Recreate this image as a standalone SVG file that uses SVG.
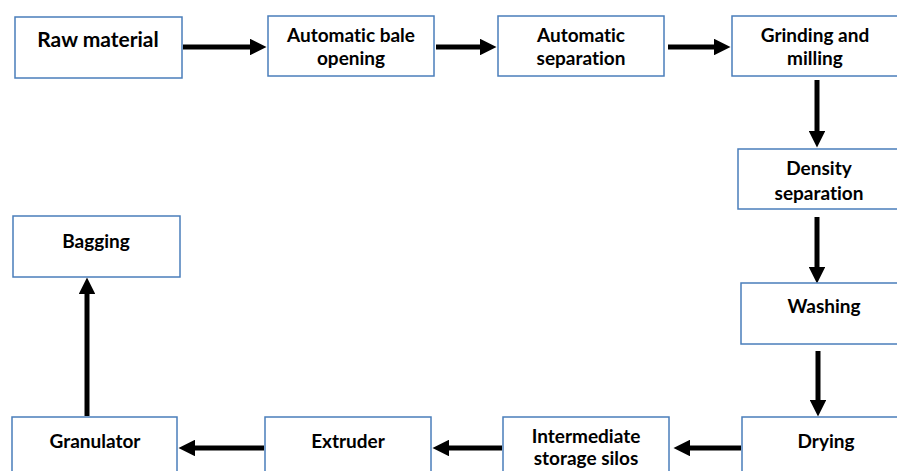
<svg xmlns="http://www.w3.org/2000/svg" width="897" height="471" viewBox="0 0 897 471">
<defs>
<style>
.box{fill:#fff;stroke:#4a7ebb;stroke-width:1.5}
.t{font-family:Lato,"Liberation Sans",sans-serif;font-weight:bold;font-size:19px;fill:#000;text-anchor:middle;font-variant-ligatures:none}
.c{stroke:#000;stroke-width:5;fill:none;marker-end:url(#ah)}
</style>
<marker id="ah" viewBox="0 0 10 10" refX="0" refY="5" markerWidth="3.4" markerHeight="3.3" markerUnits="strokeWidth" orient="auto">
<path d="M0,0 L10,5 L0,10 z" fill="#000"/>
</marker>
</defs>
<rect width="897" height="471" fill="#fff"/>
<g id="connectors">
<line class="c" x1="183" y1="47" x2="250" y2="47"/>
<line class="c" x1="436" y1="47" x2="480" y2="47"/>
<line class="c" x1="668" y1="47" x2="714" y2="47"/>
<line class="c" x1="817" y1="80" x2="817" y2="131"/>
<line class="c" x1="817" y1="217" x2="817" y2="267"/>
<line class="c" x1="818" y1="351" x2="818" y2="400"/>
<line class="c" x1="741" y1="448" x2="690" y2="448"/>
<line class="c" x1="502" y1="448" x2="449" y2="448"/>
<line class="c" x1="264" y1="448" x2="195" y2="448"/>
<line class="c" x1="87" y1="416" x2="87" y2="294"/>
</g>
<g id="raw-material"><rect class="box" x="15" y="17" width="167" height="61"/><text class="t" x="98" y="47" style="font-size:21px">Raw material</text></g>
<g id="bale-opening"><rect class="box" x="268" y="16" width="166" height="60"/><text class="t" x="351" y="42">Automatic bale</text><text class="t" x="351" y="65">opening</text></g>
<g id="auto-separation"><rect class="box" x="498" y="16" width="166" height="60"/><text class="t" x="581" y="42">Automatic</text><text class="t" x="581" y="65">separation</text></g>
<g id="grinding"><rect class="box" x="732" y="16" width="180" height="60"/><text class="t" x="815" y="42">Grinding and</text><text class="t" x="815" y="65">milling</text></g>
<g id="density"><rect class="box" x="738" y="149" width="175" height="60"/><text class="t" x="819" y="175">Density</text><text class="t" x="819" y="200">separation</text></g>
<g id="washing"><rect class="box" x="741" y="283" width="175" height="61"/><text class="t" x="824" y="313">Washing</text></g>
<g id="drying"><rect class="box" x="742" y="417" width="175" height="70"/><text class="t" x="826" y="448">Drying</text></g>
<g id="storage-silos"><rect class="box" x="503" y="417" width="166" height="70"/><text class="t" x="586" y="443">Intermediate</text><text class="t" x="586" y="465">storage silos</text></g>
<g id="extruder"><rect class="box" x="265" y="417" width="166" height="70"/><text class="t" x="348" y="448">Extruder</text></g>
<g id="granulator"><rect class="box" x="12" y="417" width="165" height="70"/><text class="t" x="95" y="448">Granulator</text></g>
<g id="bagging"><rect class="box" x="13" y="216" width="167" height="61"/><text class="t" x="96" y="248">Bagging</text></g>
</svg>
